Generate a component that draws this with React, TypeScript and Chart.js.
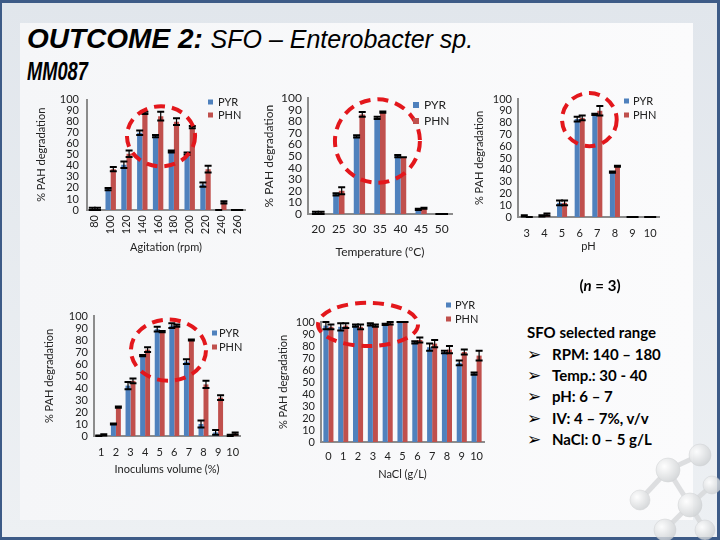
import React, { useEffect, useRef } from 'react';
import { Chart, registerables } from 'chart.js';
Chart.register(...registerables);

const FONT = 'Lato, "Open Sans", sans-serif';
const BLUE = '#4f81bd';
const RED = '#c0504d';
const INK = '#222';

// ---------- Data ----------
const agitLabels = ['80', '100', '120', '140', '160', '180', '200', '220', '240', '260'];
const agitPYR = [1, 19, 41, 70, 67, 53, 51, 23, 0, 0];
const agitPYRErr = [1, 1, 3, 2, 1, 1, 1, 2, 0, 0];
const agitPHN = [1, 37, 51, 88, 85, 80, 75, 37, 7, 0];
const agitPHNErr = [1, 2, 3, 1, 4, 3, 1, 3, 1, 0];

const tempLabels = ['20', '25', '30', '35', '40', '45', '50'];
const tempPYR = [1, 17, 67, 83, 50, 4, 0];
const tempPYRErr = [1, 1, 1, 1, 1, 0.5, 0];
const tempPHN = [1, 20, 86, 88, 49, 5, 0];
const tempPHNErr = [1, 3, 2, 0.5, 0, 0.5, 0];

const phLabels = ['3', '4', '5', '6', '7', '8', '9', '10'];
const phPYR = [1, 1, 12, 83, 87, 38, 0, 0];
const phPYRErr = [0.5, 0.5, 2, 2, 0.5, 0.5, 0, 0];
const phPHN = [0, 2, 12, 84, 90, 43, 0, 0];
const phPHNErr = [0, 1, 2, 2, 4, 0.5, 0, 0];

const inocLabels = ['1', '2', '3', '4', '5', '6', '7', '8', '9', '10'];
const inocPYR = [0, 10, 42, 67, 89, 92, 62, 10, 3, 0.5];
const inocPYRErr = [0.5, 0.5, 3, 0.5, 2, 2, 2, 3, 2, 0.5];
const inocPHN = [1, 24, 46, 72, 87, 92, 80, 43, 32, 2];
const inocPHNErr = [0.5, 0.5, 2, 2, 0.5, 1, 0.5, 3, 2, 1];

const naclLabels = ['0', '1', '2', '3', '4', '5', '6', '7', '8', '9', '10'];
const naclPYR = [97, 96, 97, 98, 98, 100, 83, 79, 75, 66, 57];
const naclPYRErr = [3, 3, 1, 1, 0.5, 0, 1, 3, 1, 2, 1];
const naclPHN = [96, 97, 96, 97, 99, 100, 85, 82, 77, 75, 72];
const naclPHNErr = [2, 2, 2, 1, 1, 0, 2, 3, 3, 2, 4];

const seriesNames = ['PYR', 'PHN'];
const yTitle = '% PAH degradation';

// ---------- Plugins ----------
const errorBarPlugin = {
  id: 'errorBars',
  afterDatasetsDraw(chart: any, _a: any, opts: any) {
    const { ctx } = chart;
    const ys = chart.scales.y;
    chart.data.datasets.forEach((ds: any, di: number) => {
      const errs = opts.errors && opts.errors[di];
      if (!errs) return;
      const meta = chart.getDatasetMeta(di);
      meta.data.forEach((bar: any, i: number) => {
        const v = ds.data[i];
        const e = errs[i];
        const x = bar.x;
        const yt = ys.getPixelForValue(v + e);
        const yb = ys.getPixelForValue(Math.max(0, v - e));
        const w = 3.5;
        ctx.save();
        ctx.strokeStyle = '#000';
        ctx.lineWidth = 1.2;
        ctx.beginPath();
        ctx.moveTo(x, yt);
        ctx.lineTo(x, yb);
        ctx.stroke();
        ctx.lineWidth = 2;
        ctx.beginPath();
        ctx.moveTo(x - w, yt);
        ctx.lineTo(x + w, yt);
        ctx.moveTo(x - w, yb);
        ctx.lineTo(x + w, yb);
        ctx.stroke();
        ctx.restore();
      });
    });
  },
};

const ellipsePlugin = {
  id: 'ellipse',
  afterDraw(chart: any, _a: any, opts: any) {
    if (!opts || opts.x0 === undefined) return;
    const { ctx } = chart;
    const xs = chart.scales.x;
    const ys = chart.scales.y;
    const px0 = xs.getPixelForValue(opts.x0);
    const px1 = xs.getPixelForValue(opts.x1);
    const py0 = ys.getPixelForValue(opts.y0);
    const py1 = ys.getPixelForValue(opts.y1);
    ctx.save();
    ctx.strokeStyle = '#e3171c';
    ctx.lineWidth = 4;
    ctx.setLineDash([11, 7]);
    ctx.beginPath();
    ctx.ellipse((px0 + px1) / 2, (py0 + py1) / 2, Math.abs(px1 - px0) / 2, Math.abs(py1 - py0) / 2, 0, 0, Math.PI * 2);
    ctx.stroke();
    ctx.restore();
  },
};

const miniLegendPlugin = {
  id: 'miniLegend',
  afterDraw(chart: any, _a: any, opts: any) {
    if (!opts || opts.x === undefined) return;
    const { ctx } = chart;
    chart.data.datasets.forEach((ds: any, i: number) => {
      const y = opts.y + i * opts.dy;
      ctx.save();
      ctx.fillStyle = ds.backgroundColor;
      ctx.fillRect(opts.x, y - opts.sq / 2, opts.sq, opts.sq);
      ctx.fillStyle = INK;
      ctx.font = `${opts.size}px ${FONT}`;
      ctx.textBaseline = 'middle';
      ctx.fillText(ds.label, opts.tx, y);
      ctx.restore();
    });
  },
};

type Spec = {
  left: number; top: number; w: number; h: number;
  labels: string[]; pyr: number[]; pyrErr: number[]; phn: number[]; phnErr: number[];
  cat: number; padL: number; padT: number; padR: number; yW: number; xH: number;
  yTitlePad: number; xTitle: string; xTitlePad: number; xTickPad: number; yTickPad: number;
  rot: number; fs: number; titleFs: number;
  ellipse: any; legend: any;
};

function BarChart({ s }: { s: Spec }) {
  const ref = useRef<HTMLCanvasElement>(null);
  useEffect(() => {
    if (!ref.current) return;
    const tickFont = { family: FONT, size: s.fs };
    const titleFont = { family: FONT, size: s.titleFs };
    const chart = new Chart(ref.current, {
      type: 'bar',
      data: {
        labels: s.labels,
        datasets: [
          { label: seriesNames[0], data: s.pyr, backgroundColor: BLUE, categoryPercentage: s.cat, barPercentage: 1 },
          { label: seriesNames[1], data: s.phn, backgroundColor: RED, categoryPercentage: s.cat, barPercentage: 1 },
        ],
      },
      plugins: [errorBarPlugin, ellipsePlugin, miniLegendPlugin],
      options: {
        responsive: false,
        animation: false,
        devicePixelRatio: 1,
        layout: { padding: { left: s.padL, top: s.padT, right: s.padR, bottom: 0 } },
        plugins: {
          legend: { display: false },
          tooltip: { enabled: false },
          errorBars: { errors: [s.pyrErr, s.phnErr] },
          ellipse: s.ellipse,
          miniLegend: s.legend,
        } as any,
        scales: {
          x: {
            grid: { display: false, drawTicks: false, tickLength: 0 },
            border: { color: '#8c8c8c', width: 2 },
            ticks: {
              font: tickFont, color: INK, padding: s.xTickPad,
              maxRotation: s.rot, minRotation: s.rot, autoSkip: false,
            },
            title: { display: true, text: s.xTitle, font: titleFont, color: INK, padding: { top: 0, bottom: s.xTitlePad } },
            afterFit: (sc: any) => { sc.height = s.xH; },
          },
          y: {
            min: 0, max: 100,
            grid: { display: false, drawTicks: false, tickLength: 0 },
            border: { color: '#8c8c8c', width: 2 },
            ticks: { stepSize: 10, autoSkip: false, font: tickFont, color: INK, padding: s.yTickPad },
            title: { display: true, text: yTitle, font: titleFont, color: INK, padding: { top: s.yTitlePad, bottom: 0 } },
            afterFit: (sc: any) => { sc.width = s.yW; },
          },
        },
      } as any,
    });
    return () => chart.destroy();
  }, []);
  return (
    <canvas ref={ref} width={s.w} height={s.h}
      style={{ position: 'absolute', left: s.left, top: s.top, width: s.w, height: s.h }} />
  );
}

const charts: Spec[] = [
  {
    left: 30, top: 85, w: 230, h: 175, labels: agitLabels, pyr: agitPYR, pyrErr: agitPYRErr, phn: agitPHN, phnErr: agitPHNErr,
    cat: 0.66, padL: 4, padT: 12, padR: 15, yW: 53, xH: 50, yTitlePad: 1, xTitle: 'Agitation (rpm)', xTitlePad: 6,
    xTickPad: 5, yTickPad: 8, rot: 90, fs: 11, titleFs: 11,
    ellipse: { x0: 2.03, x1: 6.34, y0: 94, y1: 39.5 },
    legend: { x: 178, tx: 188, y: 17, dy: 13, sq: 5, size: 11 },
  },
  {
    left: 260, top: 85, w: 215, h: 180, labels: tempLabels, pyr: tempPYR, pyrErr: tempPYRErr, phn: tempPHN, phnErr: tempPHNErr,
    cat: 0.55, padL: 2, padT: 12, padR: 23, yW: 46, xH: 51, yTitlePad: 0, xTitle: 'Temperature (\u00B0C)', xTitlePad: 6,
    xTickPad: 8, yTickPad: 6, rot: 0, fs: 12, titleFs: 12,
    ellipse: { x0: 0.81, x1: 4.94, y0: 99, y1: 27 },
    legend: { x: 153, tx: 164, y: 20, dy: 16, sq: 6, size: 12 },
  },
  {
    left: 470, top: 85, w: 215, h: 175, labels: phLabels, pyr: phPYR, pyrErr: phPYRErr, phn: phPHN, phnErr: phPHNErr,
    cat: 0.57, padL: 2, padT: 14, padR: 26, yW: 46, xH: 43, yTitlePad: 1, xTitle: 'pH', xTitlePad: 7,
    xTickPad: 10, yTickPad: 6, rot: 0, fs: 11, titleFs: 11,
    ellipse: { x0: 2.0, x1: 5.1, y0: 105, y1: 60 },
    legend: { x: 154, tx: 163, y: 16, dy: 14, sq: 5, size: 11 },
  },
  {
    left: 40, top: 300, w: 220, h: 180, labels: inocLabels, pyr: inocPYR, pyrErr: inocPYRErr, phn: inocPHN, phnErr: inocPHNErr,
    cat: 0.68, padL: 2, padT: 16, padR: 20, yW: 52, xH: 44, yTitlePad: 1, xTitle: 'Inoculums volume (%)', xTitlePad: 4,
    xTickPad: 10, yTickPad: 6, rot: 0, fs: 11, titleFs: 11,
    ellipse: { x0: 2.03, x1: 7.17, y0: 97, y1: 46 },
    legend: { x: 172, tx: 179, y: 33, dy: 14, sq: 5, size: 11 },
  },
  {
    left: 270, top: 290, w: 230, h: 200, labels: naclLabels, pyr: naclPYR, pyrErr: naclPYRErr, phn: naclPHN, phnErr: naclPHNErr,
    cat: 0.68, padL: 2, padT: 32, padR: 16, yW: 49, xH: 48, yTitlePad: 5, xTitle: 'NaCl (g/L)', xTitlePad: 9,
    xTickPad: 8, yTickPad: 6, rot: 0, fs: 11, titleFs: 11,
    ellipse: { x0: -0.7, x1: 6.05, y0: 116, y1: 80 },
    legend: { x: 176, tx: 185, y: 15, dy: 14, sq: 5, size: 11 },
  },
];

const rangeItems = ['RPM: 140 \u2013 180', 'Temp.: 30 - 40', 'pH: 6 \u2013 7', 'IV: 4 \u2013 7%, v/v', 'NaCl: 0 \u2013 5 g/L'];

function Molecule() {
  const balls = [
    [668, 470, 12], [700, 455, 11], [640, 500, 10], [690, 505, 12], [712, 485, 9], [665, 530, 11], [705, 530, 10],
  ];
  const sticks = [[668, 470, 700, 455], [668, 470, 640, 500], [668, 470, 690, 505], [690, 505, 712, 485], [690, 505, 665, 530], [690, 505, 705, 530]];
  return (
    <svg width={720} height={540} style={{ position: 'absolute', left: 0, top: 0, opacity: 0.8 }}>
      <defs>
        <radialGradient id="ball" cx="35%" cy="35%" r="70%">
          <stop offset="0%" stopColor="#ffffff" />
          <stop offset="100%" stopColor="#cdd0d2" />
        </radialGradient>
      </defs>
      {sticks.map((s, i) => (
        <line key={i} x1={s[0]} y1={s[1]} x2={s[2]} y2={s[3]} stroke="#d6d8da" strokeWidth={5} />
      ))}
      {balls.map((b, i) => (
        <circle key={i} cx={b[0]} cy={b[1]} r={b[2]} fill="url(#ball)" stroke="#c8cacc" strokeWidth={0.5} />
      ))}
    </svg>
  );
}

export default function App() {
  const listFont = `bold 15px ${FONT}`;
  return (
    <div style={{ position: 'fixed', left: 0, top: 0, width: 720, height: 540, background: '#3d5b87', overflow: 'hidden' }}>
      <div style={{ position: 'absolute', left: 2, top: 3, right: 3, bottom: 3, background: 'linear-gradient(180deg,#e1e6ec,#edf0f3)' }} />
      <div style={{ position: 'absolute', left: 20, top: 23, width: 673, height: 497, background: 'linear-gradient(90deg,#f5f6f8,#fbfbfc)' }} />
      <Molecule />
      <div style={{ position: 'absolute', left: 27, top: 25, font: 'italic bold 28px "Liberation Sans", Arial, sans-serif', lineHeight: '28px', color: '#000', whiteSpace: 'nowrap' }}>
        OUTCOME 2: <span style={{ fontWeight: 'normal', fontSize: 25 }}>SFO – Enterobacter sp.</span>
      </div>
      <div style={{ position: 'absolute', left: 27, top: 59, font: 'italic bold 25px "Liberation Sans", Arial, sans-serif', lineHeight: '25px', color: '#000', whiteSpace: 'nowrap', transform: 'scaleX(0.73)', transformOrigin: 'left top' }}>
        MM087
      </div>
      {charts.map((s, i) => <BarChart key={i} s={s} />)}
      <div style={{ position: 'absolute', left: 560, top: 275, width: 80, textAlign: 'center', font: listFont, lineHeight: '21px', color: '#000' }}>
        (<i>n</i> = 3)
      </div>
      <div style={{ position: 'absolute', left: 527, top: 322, font: listFont, lineHeight: '21px', color: '#000', whiteSpace: 'nowrap' }}>
        SFO selected range
      </div>
      {rangeItems.map((t, i) => (
        <div key={i} style={{ position: 'absolute', left: 527, top: 344 + i * 21.2, font: listFont, lineHeight: '21px', color: '#000', whiteSpace: 'nowrap' }}>
          <span style={{ display: 'inline-block', width: 25, fontFamily: '"DejaVu Sans", sans-serif', fontWeight: 'bold', fontSize: 17 }}>{'\u27A2'}</span>
          {t}
        </div>
      ))}
    </div>
  );
}
